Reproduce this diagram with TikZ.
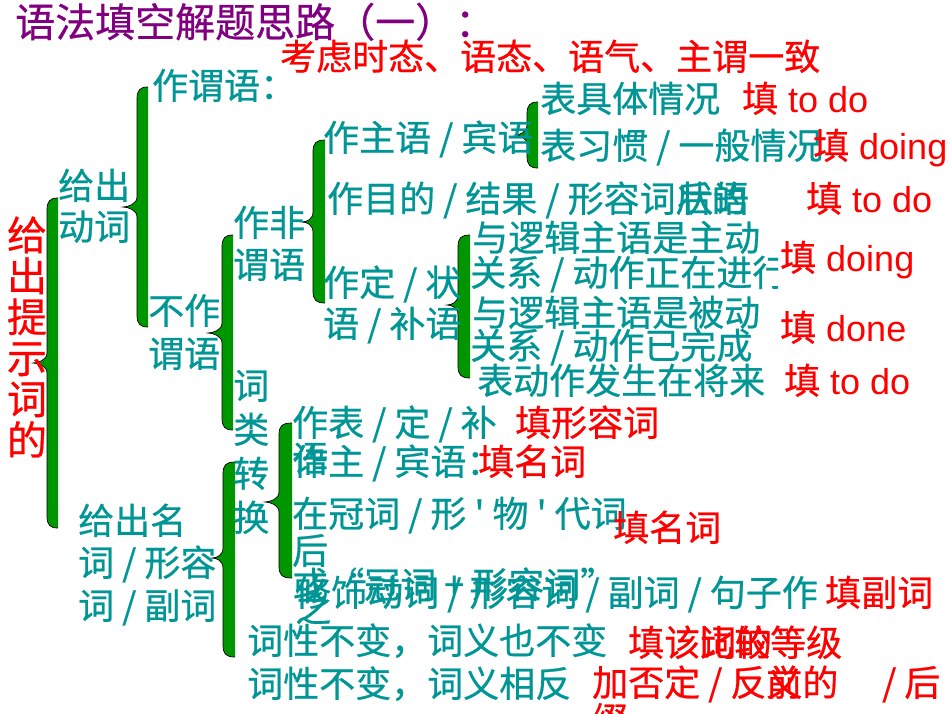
\documentclass[tikz,border=0pt]{standalone}
\usepackage{fontspec}
\setmainfont{Liberation Sans}
\newfontfamily\cjk[FakeBold=0.6]{Noto Sans CJK SC}
\definecolor{tealc}{RGB}{0,150,150}
\definecolor{redc}{RGB}{255,0,0}
\definecolor{purplec}{RGB}{128,0,128}
\definecolor{braceg}{RGB}{0,150,0}
\newcommand\gbrace[6]{% xl, xr, ytop, ybot, ytip, xtip
  \fill[braceg] (#2,#3) -- (#2,#4) .. controls (#1+3,#4) and (#1,#4-3) .. (#1,#4-12)
    -- (#1,#5+10) .. controls (#1,#5+3) and (#6+5,#5) .. (#6,#5)
    .. controls (#6+5,#5) and (#1,#5-3) .. (#1,#5-10)
    -- (#1,#3+12) .. controls (#1,#3+3) and (#1+3,#3) .. (#2,#3) -- cycle;
  \draw[black, line width=0.7pt] (#2,#4) .. controls (#1+3,#4) and (#1,#4-3) .. (#1,#4-12)
    -- (#1,#5+10) .. controls (#1,#5+3) and (#6+5,#5) .. (#6,#5)
    .. controls (#6+5,#5) and (#1,#5-3) .. (#1,#5-10)
    -- (#1,#3+12) .. controls (#1,#3+3) and (#1+3,#3) .. (#2,#3);
}
\begin{document}
\begin{tikzpicture}[x=1pt,y=-1pt,
  tx/.style={anchor=base west, inner sep=0pt, text=tealc, font=\cjk\fontsize{36}{40}\selectfont},
  rx/.style={anchor=base west, inner sep=0pt, text=redc, font=\cjk\fontsize{36}{40}\selectfont},
  rl/.style={anchor=base west, inner sep=0pt, text=redc, font=\fontsize{36}{40}\selectfont},
  vr/.style={anchor=base, inner sep=0pt, text=redc, font=\cjk\fontsize{40}{40}\selectfont},
  vt/.style={anchor=base west, inner sep=0pt, text=tealc, font=\cjk\fontsize{36}{40}\selectfont}]
\useasboundingbox[fill=white] (0,0) rectangle (950,713);

% braces
\gbrace{47}{58}{198}{528}{363}{33}
\gbrace{137}{148}{87}{327}{207}{123}
\gbrace{222}{233}{235}{430}{333}{208}
\gbrace{313}{325}{140}{303}{222}{302}
\gbrace{527}{538}{102}{168}{135}{515}
\gbrace{458}{470}{235}{378}{305}{447}
\gbrace{223}{235}{462}{657}{558}{212}
\gbrace{279}{292}{423}{578}{502}{265}

% title
\node[anchor=base west, inner sep=0pt, text=purplec, font=\cjk\fontsize{40}{40}\selectfont] (title) at (15,37) {语法填空解题思路（一）：};
\node[rx] (consider) at (280,70) {考虑时态、语态、语气、主谓一致};

% root vertical
\foreach \c/\yy [count=\i] in {给/250,出/291,提/332,示/373,词/414,的/455}
  \node[vr] (root\i) at (27,\yy) {\c};

\node[tx] (gd1) at (58,199) {给出};
\node[tx] (gd2) at (58,240) {动词};
\node[tx] (zwy) at (152,99) {作谓语：};
\node[tx] (bz1) at (148,324) {不作};
\node[tx] (bz2) at (148,367) {谓语};
\node[tx] (fw1) at (233,236) {作非};
\node[tx] (fw2) at (233,278) {谓语};
\foreach \c/\yy [count=\i] in {词/399,类/443,转/487,换/531}
  \node[vt] (clzh\i) at (233,\yy) {\c};

% non-finite branch
\node[tx] (zzy) at (323,151) {作主语 / 宾语};
\node[tx] (jt) at (540,112) {表具体情况};
\node[rl] (f1) at (742,112) {{\cjk 填} to do};
\node[tx] (xg) at (540,159) {表习惯 / 一般情况};
\node[rl] (f2) at (813,159) {{\cjk 填} doing};
\node[tx] (md) at (327,212) {作目的 / 结果 / 形容词后的};
\node[tx] (zy) at (677,212) {状语};
\node[rl] (f3) at (806,212) {{\cjk 填} to do};
\node[tx] (dz1) at (323,296) {作定 / 状};
\node[tx] (dz2) at (323,337) {语 / 补语};
\node[tx] (zd1) at (472,251) {与逻辑主语是主动};
\begin{scope}
  \clip (0,0) rectangle (778,713);
  \node[tx] (zd2) at (470,286) {关系 / 动作正在进行};
\end{scope}
\node[rl] (f4) at (780,271) {{\cjk 填} doing};
\node[tx] (bd1) at (472,326) {与逻辑主语是被动};
\node[tx] (bd2) at (470,359) {关系 / 动作已完成};
\node[rl] (f5) at (780,341) {{\cjk 填} done};
\node[tx] (jl) at (477,394) {表动作发生在将来};
\node[rl] (f6) at (784,394) {{\cjk 填} to do};

% word class conversion
\node[tx] (bdb1) at (292,436) {作表 / 定 / 补};
\node[rx] (f7) at (515,436) {填形容词};
\node[tx] (bdb2) at (292,472) {语};
\node[tx] (zb) at (292,475) {作主 / 宾语：};
\node[rx] (f8) at (478,475) {填名词};
\node[tx] (gc1) at (292,527) {在冠词 / 形 ' 物 ' 代词};
\node[tx] (gc2) at (292,564) {后};
\node[rx] (f9) at (613,541) {填名词};
\node[tx] (gc3) at (292,598) {或“冠词 + 形容词”};
\node[tx] (gc4) at (295,622) {之};
\begin{scope}
  \clip (0,0) rectangle (818,713);
  \node[tx] (xs) at (295,606) {修饰动词 / 形容词 / 副词 / 句子作状语};
\end{scope}
\node[rx] (f10) at (825,606) {填副词};

% nouns / adjectives
\node[tx] (gm1) at (78,534) {给出名};
\node[tx] (gm2) at (78,576) {词 / 形容};
\node[tx] (gm3) at (78,619) {词 / 副词};
\node[tx] (cx1) at (247,654) {词性不变，词义也不变};
\node[rx] (f11a) at (628,656) {填该词的};
\node[rx] (f11b) at (698,656) {比较等级};
\node[tx] (cx2) at (247,697) {词性不变，词义相反};
\node[rx] (f12a) at (592,696) {加否定 / 反义的};
\node[rx] (f12b) at (766,696) {前};
\node[rx] (f12c) at (882,696) {/ 后};
\node[rx] (f12d) at (592,733) {缀};
\end{tikzpicture}
\end{document}
